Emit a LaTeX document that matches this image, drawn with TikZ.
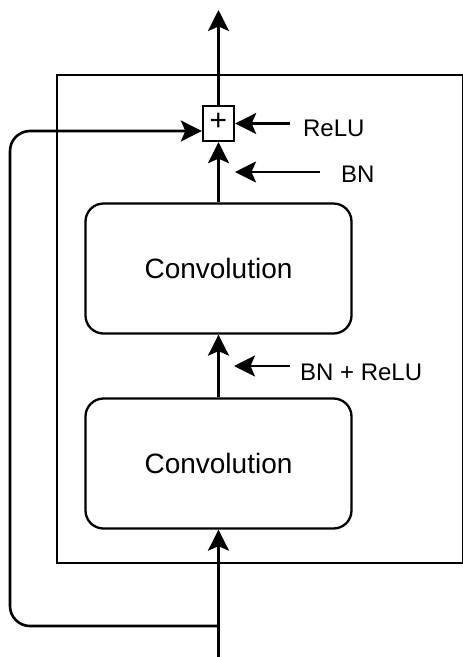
\documentclass[tikz,border=0pt]{standalone}
\usepackage{fontspec}
\setmainfont{Liberation Sans}
\usetikzlibrary{arrows.meta}
\begin{document}
\begin{tikzpicture}[x=1pt,y=-1pt,
  line width=2.3pt,
  arr/.style={-{Stealth[length=21pt,width=21pt,inset=4.5pt]}, line width=2.6pt},
  convbox/.style={draw, rounded corners=18pt, minimum width=266pt, minimum height=130pt, inner sep=0pt, font=\fontsize{28}{32}\selectfont},
  lbl/.style={anchor=base west, inner sep=0pt, font=\fontsize{24}{28}\selectfont},
  ]
\useasboundingbox (0,0) rectangle (463,657);
\node[draw, minimum width=406pt, minimum height=488pt, inner sep=0pt, anchor=north west] (frame) at (56,74) {};
\node[convbox] (conv2) at (218.5,268.5) {Convolution};
\node[convbox] (conv1) at (218.5,463.5) {Convolution};
\node[draw, fill=white, minimum width=31pt, minimum height=35pt, inner sep=0pt, font=\fontsize{30}{34}\selectfont] (plus) at (218.5,123.5) {\raisebox{2.5pt}{+}};
% main path
\coordinate (top) at (218.5,10);
\coordinate (bot) at (218.5,657);
\coordinate (split) at (218.5,626);
\draw[arr] (plus.north) -- (top);
\draw[arr] (conv2.north) -- (plus.south);
\draw[arr] (conv1.north) -- (conv2.south);
\draw[arr] (bot) -- (conv1.south);
% skip connection
\draw[arr, rounded corners=20pt] (split) -- (10,626) -- (10,131) -- ([yshift=-7.5pt]plus.west);
% side labels
\coordinate (reluS) at (290,123.5);
\draw[arr] (reluS) -- (plus.east);
\node[lbl] (relu) at (302,136) {ReLU};
\coordinate (bnS) at (320,172);
\coordinate (bnT) at (235,172);
\draw[arr] (bnS) -- (bnT);
\node[lbl] (bn) at (340,182) {BN};
\coordinate (bnreluS) at (290,366);
\coordinate (bnreluT) at (234,366);
\draw[arr] (bnreluS) -- (bnreluT);
\node[lbl] (bnrelu) at (299,380) {BN + ReLU};
\end{tikzpicture}
\end{document}
